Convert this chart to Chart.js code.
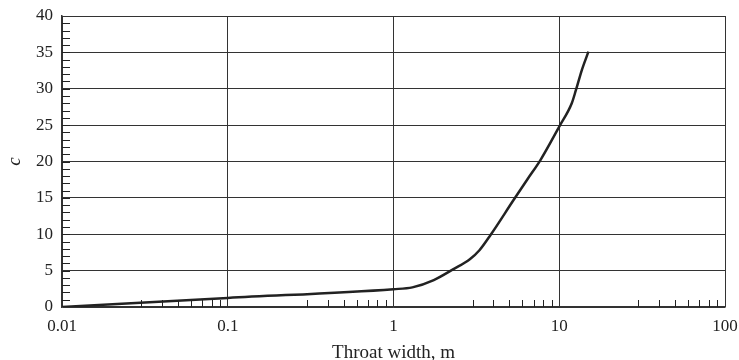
<!DOCTYPE html>
<html>
<head>
<meta charset="utf-8">
<script src="https://cdn.jsdelivr.net/npm/chart.js@4.4.0/dist/chart.umd.min.js"></script>
<style>
    html, body { margin: 0; padding: 0; background: #fff; }
    #wrap { width: 739px; height: 360px; }
</style>
</head>
<body>
<div id="wrap"><canvas id="chart" width="739" height="360"></canvas></div>
<script>
// throat width (m) vs coefficient c
const throatWidths = [0.01, 0.1, 1, 1.3, 1.75, 2.3, 2.9, 3.3, 3.85, 5.3, 6.4, 7.7, 10, 11.9, 12.6, 13.7, 15];
const cValues = [0, 1.25, 2.45, 2.7, 3.7, 5.2, 6.6, 7.8, 9.9, 14.7, 17.5, 20.2, 24.8, 28.0, 29.8, 32.6, 35.1];

const xDecades = [0.01, 0.1, 1, 10, 100];
const xMinorFactors = [3, 4, 5, 6, 7, 8, 9];
const yMin = 0;
const yMax = 40;
const yStep = 5;

const serif = 'Liberation Serif';
const ink = '#222';

// little inside ticks on the left and bottom axes
const minorTicks = {
    id: 'minorTicks',
    afterDraw(chart) {
        const ctx = chart.ctx;
        const xs = chart.scales.x;
        const ys = chart.scales.y;
        const area = chart.chartArea;
        ctx.save();
        ctx.strokeStyle = ink;
        ctx.lineWidth = 1;
        ctx.beginPath();
        for (let v = yMin + 1; v < yMax; v++) {
            const py = Math.round(ys.getPixelForValue(v)) + 0.5;
            ctx.moveTo(area.left, py);
            ctx.lineTo(area.left + 8, py);
        }
        for (let d = 0; d < xDecades.length - 1; d++) {
            xMinorFactors.forEach((m) => {
                const px = Math.round(xs.getPixelForValue(xDecades[d] * m)) + 0.5;
                ctx.moveTo(px, area.bottom);
                ctx.lineTo(px, area.bottom - 7);
            });
        }
        ctx.stroke();
        ctx.restore();
    }
};

const ctx = document.getElementById('chart').getContext('2d');

new Chart(ctx, {
    type: 'line',
    data: {
        datasets: [{
            data: throatWidths.map((w, i) => ({ x: w, y: cValues[i] })),
            borderColor: ink,
            borderWidth: 2.5,
            pointRadius: 0,
            cubicInterpolationMode: 'monotone',
            fill: false
        }]
    },
    options: {
        responsive: false,
        animation: false,
        layout: {
            padding: { top: 16, right: 14, bottom: 0, left: 0 }
        },
        plugins: {
            legend: { display: false },
            tooltip: { enabled: false }
        },
        scales: {
            x: {
                type: 'logarithmic',
                min: 0.01,
                max: 100,
                afterBuildTicks: (scale) => {
                    scale.ticks = xDecades.map((v) => ({ value: v }));
                },
                afterFit: (scale) => {
                    scale.height = 53;
                    scale.paddingLeft = 0;
                    scale.paddingRight = 0;
                },
                ticks: {
                    autoSkip: false,
                    maxRotation: 0,
                    padding: 9,
                    color: ink,
                    font: { family: serif, size: 17 },
                    callback: (value) => String(value)
                },
                grid: {
                    color: '#333',
                    lineWidth: 1,
                    drawTicks: false
                },
                border: { color: '#333', width: 1.5 },
                title: {
                    display: true,
                    text: 'Throat width, m',
                    color: ink,
                    font: { family: serif, size: 19 },
                    padding: { top: 0, bottom: -4 }
                }
            },
            y: {
                min: yMin,
                max: yMax,
                afterFit: (scale) => {
                    scale.width = 62;
                    scale.paddingTop = 0;
                    scale.paddingBottom = 0;
                },
                ticks: {
                    stepSize: yStep,
                    padding: 9,
                    color: ink,
                    font: { family: serif, size: 17 }
                },
                grid: {
                    color: '#333',
                    lineWidth: 1,
                    drawTicks: false
                },
                border: { color: '#333', width: 1.5 },
                title: {
                    display: true,
                    text: 'c',
                    color: ink,
                    font: { family: serif, size: 19, style: 'italic' },
                    padding: { top: 4, bottom: 0 }
                }
            }
        }
    },
    plugins: [minorTicks]
});
</script>
</body>
</html>
